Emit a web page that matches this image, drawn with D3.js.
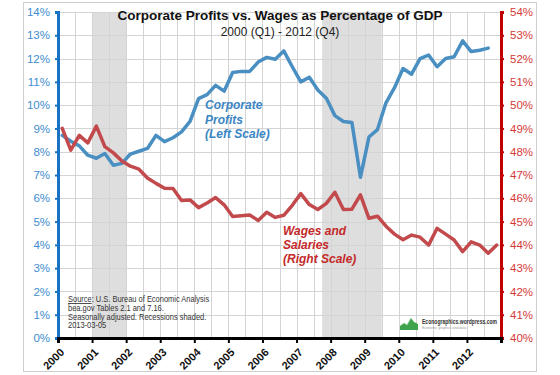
<!DOCTYPE html>
<html>
<head>
<meta charset="utf-8">
<script src="https://cdnjs.cloudflare.com/ajax/libs/d3/7.8.5/d3.min.js"></script>
<style>
body{margin:0;background:#fff;}
svg{display:block;font-family:"Liberation Sans",Arial,sans-serif;}
</style>
</head>
<body>
<svg id="chart" width="560" height="375"></svg>
<script>
// quarterly values, 2000 Q1 onwards (profits stop at 2012 Q3)
const profits = [8.7,8.45,8.25,7.85,7.72,7.92,7.42,7.5,7.9,8.02,8.14,8.7,8.43,8.6,8.85,9.3,
  10.28,10.45,10.85,10.6,11.4,11.45,11.45,11.85,12.05,11.97,12.33,11.65,11.0,11.2,10.65,10.3,
  9.55,9.3,9.25,6.9,8.63,8.95,10.1,10.75,11.57,11.33,12.0,12.15,11.65,12.0,12.08,12.76,
  12.3,12.36,12.45];
const wages = [49.0,48.07,48.7,48.38,49.1,48.22,47.95,47.6,47.38,47.25,46.87,46.64,46.43,46.42,45.9,45.93,
  45.6,45.8,46.03,45.72,45.22,45.25,45.28,45.05,45.4,45.18,45.27,45.7,46.2,45.73,45.52,45.78,
  46.26,45.52,45.53,46.15,45.14,45.23,44.8,44.46,44.22,44.42,44.33,43.99,44.71,44.46,44.21,43.71,
  44.13,43.99,43.64,43.99];
const yearLabels = ["2000","2001","2002","2003","2004","2005","2006","2007","2008","2009","2010","2011","2012"];
const leftTicks = [0,1,2,3,4,5,6,7,8,9,10,11,12,13,14];
const rightTicks = [40,41,42,43,44,45,46,47,48,49,50,51,52,53,54];
const recessions = [[2001,2002],[2007.75,2009.5]];
const sourceLines = ["bea.gov Tables 2.1 and 7.16.","Seasonally adjusted. Recessions shaded.","2013-03-05"];

const svg = d3.select("#chart");
const pL = 58, pR = 501, pT = 12, pB = 338;

const x = d3.scaleLinear().domain([2000,2013]).range([pL,pR]);
const yL = d3.scaleLinear().domain([0,14]).range([pB,pT]);
const yR = d3.scaleLinear().domain([40,54]).range([pB,pT]);
// quarter i sits in the middle of its quarter
const qx = (d,i) => x(2000 + (i+0.5)/4);

svg.append("rect").attr("x",23.5).attr("y",2.5).attr("width",513).attr("height",369)
  .attr("fill","#fff").attr("stroke","#cfcfcf");

// recession shading
svg.append("g").selectAll("rect").data(recessions).join("rect")
  .attr("x",d=>x(d[0])).attr("y",pT)
  .attr("width",d=>x(d[1])-x(d[0])).attr("height",pB-pT)
  .attr("fill","#dedede");

// grid
const grid = svg.append("g").attr("stroke","#d4d4d4").attr("stroke-width",1);
grid.selectAll(".v").data(d3.range(2000.5,2013,0.5)).join("line")
  .attr("x1",d=>Math.round(x(d))+0.5).attr("x2",d=>Math.round(x(d))+0.5)
  .attr("y1",pT).attr("y2",pB);
grid.selectAll(".h").data(leftTicks.slice(1)).join("line")
  .attr("x1",pL).attr("x2",pR)
  .attr("y1",d=>Math.round(yL(d))+0.5).attr("y2",d=>Math.round(yL(d))+0.5);

// title
svg.append("text").attr("x",280).attr("y",20).attr("text-anchor","middle")
  .attr("font-size",13.5).attr("font-weight","bold").attr("fill","#111")
  .text("Corporate Profits vs. Wages as Percentage of GDP");
svg.append("text").attr("x",280).attr("y",36).attr("text-anchor","middle")
  .attr("font-size",12).attr("fill","#222")
  .text("2000 (Q1) - 2012 (Q4)");

// lines
const lineL = d3.line().x(qx).y(d=>yL(d));
const lineR = d3.line().x(qx).y(d=>yR(d));
svg.append("path").datum(profits).attr("d",lineL).attr("fill","none")
  .attr("stroke","#4a8fc2").attr("stroke-width",3.5).attr("stroke-linejoin","round").attr("stroke-linecap","round");
svg.append("path").datum(wages).attr("d",lineR).attr("fill","none")
  .attr("stroke","#c24a4c").attr("stroke-width",3.5).attr("stroke-linejoin","round").attr("stroke-linecap","round");

// axes
const axL = svg.append("g").attr("transform",`translate(${pL},0)`)
  .call(d3.axisLeft(yL).tickValues(leftTicks).tickFormat(d=>d+"%").tickSize(3).tickPadding(5));
axL.select(".domain").attr("stroke","#1a72c4").attr("stroke-width",3);
axL.selectAll(".tick line").attr("stroke","#1a72c4").attr("stroke-width",2);
axL.selectAll(".tick text").attr("fill","#3e8ccf").attr("font-size",11.5).attr("font-family","Liberation Sans, Arial, sans-serif");

const axR = svg.append("g").attr("transform",`translate(${pR},0)`)
  .call(d3.axisRight(yR).tickValues(rightTicks).tickFormat(d=>d+"%").tickSize(3).tickPadding(6));
axR.select(".domain").attr("stroke","#c00000").attr("stroke-width",3);
axR.selectAll(".tick line").attr("stroke","#c00000").attr("stroke-width",2);
axR.selectAll(".tick text").attr("fill","#d43a3a").attr("font-size",11.5).attr("font-family","Liberation Sans, Arial, sans-serif");

const axB = svg.append("g").attr("transform",`translate(0,${pB})`)
  .call(d3.axisBottom(x).tickValues(yearLabels.map(Number)).tickFormat("").tickSize(5));
axB.select(".domain").attr("stroke","#000").attr("stroke-width",3);
axB.selectAll(".tick line").attr("stroke","#000").attr("stroke-width",2);

svg.append("g").selectAll("text").data(yearLabels).join("text")
  .attr("transform",d=>`translate(${x(+d)+7},${pB+15}) rotate(-45)`)
  .attr("text-anchor","end").attr("font-size",11).attr("font-weight","bold").attr("fill","#111")
  .text(d=>d);

// series annotations
const noteP = svg.append("text").attr("font-size",12).attr("font-weight","bold")
  .attr("font-style","italic").attr("fill","#3a86c4");
["Corporate","Profits","(Left Scale)"].forEach((t,i)=>
  noteP.append("tspan").attr("x",205).attr("y",109+i*14.5).text(t));
const noteW = svg.append("text").attr("font-size",12).attr("font-weight","bold")
  .attr("font-style","italic").attr("fill","#c42a2a");
["Wages and","Salaries","(Right Scale)"].forEach((t,i)=>
  noteW.append("tspan").attr("x",283).attr("y",235+i*14).text(t));

// source note (squeezed a little, the original uses a narrow font)
const src = svg.append("g").attr("transform","translate(68,0) scale(0.87,1)")
  .append("text").attr("font-size",8.6).attr("fill","#333");
const s0 = src.append("tspan").attr("x",0).attr("y",302);
s0.append("tspan").attr("text-decoration","underline").text("Source");
s0.append("tspan").text(":  U.S. Bureau of Economic Analysis");
sourceLines.forEach((t,i)=>src.append("tspan").attr("x",0).attr("y",311+i*8.7).text(t));

// logo
const logo = svg.append("g");
logo.append("path").attr("d","M400,330 L400,326 L404,323 L407,325 L411,318 L414,322 L418,324 L418,330 Z")
  .attr("fill","#3fa34d");
logo.append("path").attr("d","M400,326 L404,323 L407,325 L411,318").attr("fill","none")
  .attr("stroke","#9acfa2").attr("stroke-width",0.8);
logo.append("text").attr("x",422).attr("y",324).attr("font-size",6.5).attr("font-weight","bold")
  .attr("fill","#333").attr("textLength",75).attr("lengthAdjust","spacingAndGlyphs")
  .text("Econographics.wordpress.com");
logo.append("text").attr("x",422).attr("y",329).attr("font-size",3.5).attr("fill","#999")
  .text("Economic graphics and data");
</script>
</body>
</html>
